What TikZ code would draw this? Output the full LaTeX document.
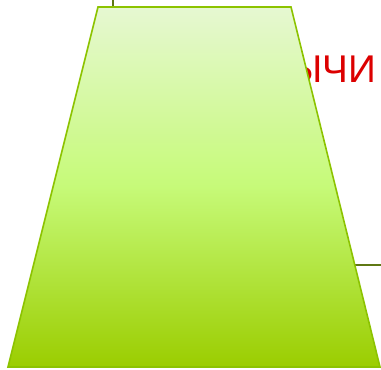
\documentclass[tikz,border=0pt]{standalone}
\usepackage{fontspec}
\setmainfont{Liberation Sans}
\usepackage{tikz}
\usetikzlibrary{positioning,calc}
\definecolor{trapline}{RGB}{140,195,0}
\definecolor{traptop}{RGB}{230,248,210}
\definecolor{trapmid}{RGB}{198,250,120}
\definecolor{trapbottom}{RGB}{155,205,0}
\definecolor{stubline}{RGB}{95,120,20}
\definecolor{wordred}{RGB}{220,0,0}
\tikzset{
  stub/.style={draw=stubline,line width=1.5pt},
  trapshape/.style={draw=trapline,line width=1.2pt,line join=miter,
    top color=traptop,bottom color=trapbottom,middle color=trapmid},
  bigword/.style={text=wordred,font=\fontsize{29}{36}\selectfont,inner sep=0pt}
}
\begin{document}
\begin{tikzpicture}[x=0.75pt,y=-0.75pt]
  \useasboundingbox (0,0) rectangle (381,370);
  \clip (0,0) rectangle (381,370);
  % word behind the shape
  \node[bigword,anchor=base west] (word) at (288,83) {ЫЧИ};
  % stubs of connectors coming from outside
  \coordinate (stubtop) at (113,0);
  \coordinate (stubright) at (381,265);
  % trapezoid
  \coordinate (tl) at (98,7);
  \coordinate (tr) at (291,7);
  \coordinate (br) at (380,367);
  \coordinate (bl) at (8,367);
  \draw[stub] (stubtop) -- (stubtop |- tl);
  \draw[stub] (stubright) -- ++(-26,0);
  \path[trapshape] (tl) -- (tr) -- (br) -- (bl) -- cycle;
\end{tikzpicture}
\end{document}
